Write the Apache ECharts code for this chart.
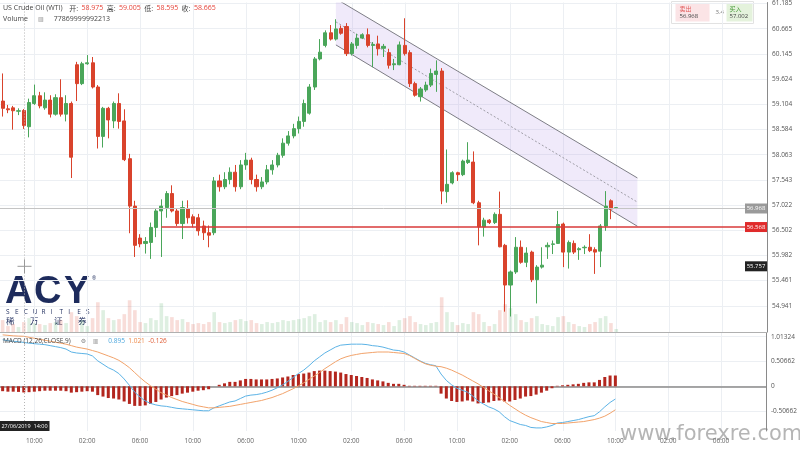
<!DOCTYPE html>
<html><head><meta charset="utf-8">
<script src="https://cdn.jsdelivr.net/npm/echarts@6/dist/echarts.min.js"></script>
<style>html,body{margin:0;padding:0;background:#fff;}#c{width:800px;height:450px;}</style>
</head><body><div id="c"></div>
<script>
// ---------- data ----------
// candles: [open, close, low, high]
const ohlc = [
[59.17,59.02,58.85,59.74],[59.01,58.99,58.92,59.09],[59.03,58.97,58.58,59.07],[58.96,58.97,58.88,59.02],[58.975,58.665,58.595,59.005],
[58.64,59.14,58.42,59.22],[59.12,59.28,59.09,59.51],[59.28,59.07,59.02,59.36],[59.03,59.19,58.99,59.35],[59.19,58.90,58.83,59.29],
[58.90,59.24,58.87,59.31],[59.24,58.90,58.85,59.62],[58.90,59.12,58.75,59.29],[59.12,58.01,57.58,59.16],[59.92,59.53,59.17,59.98],
[59.53,59.94,59.50,59.98],[59.94,59.96,59.92,60.12],[59.96,59.46,59.43,60.08],[59.46,58.44,58.19,59.50],[58.44,59.02,58.21,59.05],
[59.02,58.78,58.40,59.05],[58.76,59.12,58.61,59.16],[59.12,58.75,58.60,59.33],[58.76,57.96,57.93,59.00],[57.98,57.00,56.44,58.08],
[57.00,56.19,55.95,57.11],[56.34,56.22,56.15,56.42],[56.23,56.27,56.02,56.36],[56.25,56.56,55.91,56.66],[56.56,56.90,56.36,56.94],
[56.90,57.00,55.95,57.14],[56.97,57.26,56.76,57.31],[57.26,56.90,56.87,57.43],[56.90,56.64,56.59,56.94],[56.64,56.97,56.32,57.11],
[56.94,56.76,56.64,57.12],[56.78,56.64,56.56,56.83],[56.76,56.49,56.39,56.84],[56.59,56.45,56.30,56.70],[56.45,56.40,56.15,56.60],
[56.45,57.52,56.40,57.60],[57.52,57.40,57.30,57.65],[57.40,57.55,57.35,57.70],[57.55,57.70,57.45,57.80],[57.70,57.40,57.30,57.85],
[57.40,57.85,57.35,57.95],[57.85,57.95,57.75,58.10],[57.95,57.55,57.45,58.00],[57.55,57.40,57.30,57.65],[57.40,57.50,57.35,57.60],
[57.50,57.75,57.45,57.85],[57.75,57.85,57.65,57.95],[57.85,58.05,57.80,58.10],[58.05,58.30,58.00,58.40],[58.30,58.45,58.25,58.55],
[58.45,58.60,58.40,58.70],[58.60,58.75,58.50,58.85],[58.75,59.12,58.64,59.20],[58.92,59.46,58.89,59.52],[59.46,60.04,59.40,60.08],
[60.04,60.18,60.01,60.45],[60.32,60.58,60.28,60.63],[60.58,60.45,60.42,60.74],[60.45,60.66,60.42,60.86],[60.67,60.57,60.54,60.73],
[60.71,60.15,60.10,60.78],[60.15,60.35,60.11,60.39],[60.32,60.47,60.25,60.56],[60.47,60.54,60.45,60.57],[60.54,60.32,60.28,60.67],
[60.32,60.34,59.87,60.39],[60.35,60.25,60.11,60.52],[60.26,60.30,60.08,60.35],[60.17,59.91,59.84,60.25],[59.92,59.94,59.81,60.04],
[59.92,60.33,59.91,60.40],[60.32,60.15,60.11,60.88],[60.17,59.53,59.46,60.22],[59.53,59.29,59.26,59.57],[59.26,59.42,59.16,59.46],
[59.40,59.50,59.36,59.57],[59.50,59.74,59.46,59.84],[59.72,59.79,59.36,60.01],[59.79,57.31,57.04,59.85],[57.30,57.45,57.07,58.17],
[57.48,57.69,57.45,57.72],[57.69,57.65,57.52,57.71],[57.65,57.93,57.62,57.96],[57.90,57.95,57.87,58.32],[57.91,57.07,57.04,58.13],
[57.07,56.57,56.19,57.11],[56.57,56.71,56.37,56.76],[56.71,56.66,56.63,56.73],[56.66,56.83,56.63,56.87],[56.83,56.16,56.15,57.30],
[56.19,55.37,54.82,56.22],[55.37,55.64,54.72,55.67],[55.64,56.15,55.60,56.36],[56.15,55.84,55.81,56.29],[55.84,56.03,55.74,56.15],
[56.05,55.48,55.43,56.08],[55.48,55.74,54.99,55.78],[55.74,55.78,55.71,56.15],[56.16,56.19,55.91,56.25],[56.21,56.22,56.01,56.29],
[56.23,56.62,56.22,56.90],[56.63,56.05,55.74,56.66],[56.05,56.25,55.71,56.29],[56.23,56.05,56.01,56.29],[56.10,56.12,55.89,56.15],
[56.14,56.15,56.01,56.19],[56.15,56.08,56.05,56.42],[56.10,56.05,55.60,56.15],[56.07,56.59,55.74,56.63],[56.59,57.00,56.49,57.31],
[57.11,56.94,56.73,57.14],[56.96,56.968,56.94,56.98]
];
const volume = [
12,6,8,5,10,14,9,8,7,9,10,12,9,20,16,12,6,14,30,22,
14,12,13,18,32,22,10,9,14,12,29,16,15,12,13,10,8,9,8,10,
20,10,9,10,12,13,11,12,9,8,10,9,10,12,11,12,13,14,16,18,
10,12,10,12,8,15,10,9,7,10,9,8,7,10,6,12,14,16,10,8,
7,9,10,35,20,10,7,9,8,20,18,10,6,8,22,28,24,18,12,10,
14,16,8,7,6,15,16,10,8,6,5,8,10,14,16,9,3
];
const dif = [
0.95,0.93,0.92,0.91,0.895,0.88,0.87,0.86,0.85,0.83,0.81,0.79,0.76,0.70,0.68,0.67,0.66,0.62,0.52,0.45,
0.38,0.33,0.26,0.15,0.02,-0.12,-0.22,-0.30,-0.35,-0.38,-0.40,-0.41,-0.43,-0.45,-0.46,-0.47,-0.48,-0.49,-0.50,-0.50,
-0.44,-0.40,-0.36,-0.32,-0.30,-0.25,-0.20,-0.18,-0.17,-0.15,-0.12,-0.08,-0.03,0.03,0.10,0.18,0.26,0.33,0.42,0.52,
0.60,0.68,0.74,0.80,0.84,0.85,0.86,0.86,0.86,0.85,0.83,0.82,0.80,0.77,0.74,0.73,0.70,0.64,0.58,0.52,
0.47,0.44,0.42,0.25,0.12,0.03,-0.04,-0.08,-0.12,-0.20,-0.30,-0.36,-0.42,-0.46,-0.52,-0.62,-0.70,-0.74,-0.78,-0.80,
-0.84,-0.85,-0.85,-0.83,-0.80,-0.75,-0.74,-0.72,-0.70,-0.68,-0.65,-0.62,-0.60,-0.52,-0.42,-0.33,-0.26
];
const dea = [
1.05,1.04,1.03,1.025,1.021,1.00,0.98,0.96,0.94,0.92,0.90,0.88,0.86,0.83,0.80,0.78,0.76,0.73,0.70,0.66,
0.62,0.58,0.53,0.46,0.38,0.28,0.18,0.09,0.01,-0.06,-0.13,-0.18,-0.23,-0.27,-0.31,-0.34,-0.37,-0.40,-0.42,-0.44,
-0.44,-0.43,-0.42,-0.41,-0.39,-0.37,-0.35,-0.33,-0.31,-0.29,-0.26,-0.23,-0.19,-0.15,-0.10,-0.05,0.01,0.07,0.14,0.21,
0.28,0.36,0.43,0.50,0.56,0.60,0.63,0.65,0.67,0.68,0.69,0.70,0.70,0.70,0.69,0.68,0.67,0.63,0.57,0.51,
0.46,0.43,0.41,0.40,0.37,0.33,0.28,0.23,0.17,0.11,0.05,-0.02,-0.09,-0.16,-0.23,-0.31,-0.39,-0.46,-0.53,-0.59,
-0.64,-0.68,-0.72,-0.74,-0.76,-0.76,-0.76,-0.75,-0.74,-0.73,-0.72,-0.70,-0.68,-0.65,-0.61,-0.55,-0.48
];
const hist = [
-0.10,-0.11,-0.11,-0.115,-0.126,-0.12,-0.11,-0.10,-0.09,-0.09,-0.09,-0.09,-0.10,-0.13,-0.12,-0.11,-0.10,-0.11,-0.18,-0.21,
-0.24,-0.25,-0.27,-0.31,-0.36,-0.40,-0.40,-0.39,-0.36,-0.32,-0.27,-0.23,-0.20,-0.18,-0.15,-0.13,-0.11,-0.09,-0.08,-0.06,
0.00,0.03,0.06,0.09,0.09,0.12,0.15,0.15,0.14,0.14,0.14,0.15,0.16,0.18,0.20,0.23,0.25,0.26,0.28,0.31,
0.32,0.32,0.31,0.30,0.28,0.25,0.23,0.21,0.19,0.17,0.14,0.12,0.10,0.07,0.05,0.05,0.03,0.01,0.01,0.01,
0.01,0.01,0.01,-0.15,-0.25,-0.30,-0.32,-0.31,-0.29,-0.31,-0.35,-0.34,-0.33,-0.30,-0.29,-0.31,-0.31,-0.28,-0.25,-0.21,
-0.20,-0.17,-0.13,-0.09,-0.04,0.01,0.02,0.03,0.04,0.05,0.07,0.08,0.08,0.13,0.19,0.22,0.22
];
const priceTicks = [54.941,55.461,55.982,56.502,57.022,57.543,58.063,58.584,59.104,59.624,60.145,60.665,61.185];
const macdTicks = [-0.50662,0,0.50662,1.01324];
const xTickLabels = ['10:00','02:00','06:00','10:00','06:00','10:00','02:00','06:00','10:00','02:00','06:00','10:00','02:00','06:00'];
const xTickStart = 6, xTickEvery = 10, slotCount = 145;
// channel: [index, price] end points
const channelX = [63, 120];
const channelUpper = [61.283, 57.582];
const channelMiddle = [60.806, 57.083];
const channelLower = [60.330, 56.584];
const supportPrice = 56.568, supportFrom = 30;
const lastPrice = 56.968;
const crossIndex = 4, crossPrice = 55.757, crossDate = '27/06/2019  14:00';
const volumeTotal = '77869999992213';
const bidAsk = {bid: '56.968', ask: '57.002', spread: '3.4'};
const logoWord = ['A', 'C', 'Y'];
const logoSub = 'SECURITIES';
const logoCn = ['稀', '万', '证', '券'];

// ---------- chart ----------
const FONT = '"Open Sans", Roboto, sans-serif';
const CJK = '"Noto Sans CJK SC", sans-serif';
const UP = '#4aa65a', DOWN = '#d9432c', NAVY = '#1d2b5c';
const cats = Array.from({length: slotCount}, (_, i) => String(i));
const tickIdx = xTickLabels.map((_, k) => xTickStart + k * xTickEvery);
const chart = echarts.init(document.getElementById('c'));

function vGrid(params, api) {
  const cs = params.coordSys;
  return {type: 'group', children: tickIdx.map(i => {
    const x = Math.round(api.coord([i, 0])[0]) + 0.5;
    return {type: 'line', shape: {x1: x, y1: cs.y, x2: x, y2: cs.y + cs.height}, style: {stroke: '#eceff3', lineWidth: 1}};
  })};
}
function channelRender(params, api) {
  const u0 = api.coord([channelX[0], channelUpper[0]]), u1 = api.coord([channelX[1], channelUpper[1]]);
  const m0 = api.coord([channelX[0], channelMiddle[0]]), m1 = api.coord([channelX[1], channelMiddle[1]]);
  const l0 = api.coord([channelX[0], channelLower[0]]), l1 = api.coord([channelX[1], channelLower[1]]);
  return {type: 'group', children: [
    {type: 'polygon', shape: {points: [u0, u1, l1, l0]}, style: {fill: 'rgba(186,160,232,0.22)'}},
    {type: 'line', shape: {x1: u0[0], y1: u0[1], x2: u1[0], y2: u1[1]}, style: {stroke: '#7d7d85', lineWidth: 1}},
    {type: 'line', shape: {x1: l0[0], y1: l0[1], x2: l1[0], y2: l1[1]}, style: {stroke: '#7d7d85', lineWidth: 1}},
    {type: 'line', shape: {x1: m0[0], y1: m0[1], x2: m1[0], y2: m1[1]}, style: {stroke: '#8a8a92', lineWidth: 0.8, lineDash: [2, 2]}}
  ]};
}
function priceBox(cs, y, bg, txt) {
  const r = cs.x + cs.width;
  return [
    {type: 'rect', shape: {x: r - 22, y: y - 5, width: 22, height: 10}, style: {fill: bg}},
    {type: 'text', x: r - 11, y: y, style: {text: txt, fill: '#fff', font: '6px ' + FONT, align: 'center', verticalAlign: 'middle'}}
  ];
}
function levelsRender(params, api) {
  const cs = params.coordSys;
  const r = cs.x + cs.width;
  const yl = Math.round(api.coord([0, lastPrice])[1]) + 0.5;
  const s0 = api.coord([supportFrom, supportPrice]);
  const cx = Math.round(api.coord([crossIndex, crossPrice])[0]) + 0.5;
  const cy = api.coord([crossIndex, crossPrice])[1];
  return {type: 'group', children: [
    {type: 'line', shape: {x1: cs.x, y1: yl, x2: r, y2: yl}, style: {stroke: '#c4c4c4', lineWidth: 1}},
    {type: 'line', shape: {x1: s0[0], y1: s0[1], x2: r, y2: s0[1]}, style: {stroke: '#d93a3a', lineWidth: 1.5}},
    {type: 'line', shape: {x1: cx, y1: cs.y, x2: cx, y2: cs.y + cs.height}, style: {stroke: '#b5b5b5', lineWidth: 1, lineDash: [1, 2]}},
    {type: 'line', shape: {x1: cx - 7, y1: cy, x2: cx + 7, y2: cy}, style: {stroke: '#999', lineWidth: 1}},
    {type: 'line', shape: {x1: cx, y1: cy - 7, x2: cx, y2: cy + 7}, style: {stroke: '#999', lineWidth: 1}},
    ...priceBox(cs, yl, '#9a9a9a', lastPrice.toFixed(3)),
    ...priceBox(cs, s0[1], '#e02b2b', supportPrice.toFixed(3)),
    ...priceBox(cs, cy, '#222', crossPrice.toFixed(3))
  ]};
}
function macdCross(params, api) {
  const cs = params.coordSys;
  const cx = Math.round(api.coord([crossIndex, 0])[0]) + 0.5;
  const b = cs.y + cs.height;
  return {type: 'group', children: [
    {type: 'line', shape: {x1: cx, y1: cs.y, x2: cx, y2: b}, style: {stroke: '#b5b5b5', lineWidth: 1, lineDash: [1, 2]}},
    {type: 'rect', shape: {x: cx - 25, y: b - 10, width: 50, height: 10}, style: {fill: '#222'}},
    {type: 'text', x: cx, y: b - 5, style: {text: crossDate, fill: '#fff', font: '5.5px ' + FONT, align: 'center', verticalAlign: 'middle'}}
  ]};
}

const logoChildren = [];
logoWord.forEach((ch, k) => logoChildren.push({type: 'text', x: k * 29 + (k === 2 ? 1 : 0), y: 0,
  style: {text: ch, fill: NAVY, font: 'bold 38px "Liberation Sans", Arial, sans-serif'}}));
logoChildren.push({type: 'text', x: 87, y: 2, style: {text: '®', fill: NAVY, font: '5px ' + FONT}});
logoSub.split('').forEach((ch, k) => logoChildren.push({type: 'text', x: 1 + k * 8.9, y: 35,
  style: {text: ch, fill: NAVY, font: '6.5px ' + FONT, align: 'left'}}));
logoCn.forEach((ch, k) => logoChildren.push({type: 'text', x: 1 + k * 24, y: 43,
  style: {text: ch, fill: NAVY, font: '8.5px ' + CJK}}));

const c4 = ohlc[crossIndex];
const option = {
  animation: false,
  backgroundColor: '#fff',
  grid: [
    {left: 0, right: 33, top: 0, height: 332},
    {left: 0, right: 33, top: 333, height: 98}
  ],
  xAxis: [
    {type: 'category', gridIndex: 0, data: cats, boundaryGap: true,
     axisLine: {show: true, lineStyle: {color: '#b0b0b0'}}, axisTick: {show: false}, axisLabel: {show: false}, splitLine: {show: false}},
    {type: 'category', gridIndex: 1, data: cats, boundaryGap: true,
     axisLine: {show: true, lineStyle: {color: '#8a8a8a', width: 1.5}}, axisTick: {show: false},
     axisLabel: {interval: (i) => i >= xTickStart && (i - xTickStart) % xTickEvery === 0,
       formatter: (v, i) => xTickLabels[(i - xTickStart) / xTickEvery] || '',
       fontSize: 6.5, color: '#666', margin: 7, fontFamily: FONT},
     splitLine: {show: false}}
  ],
  yAxis: [
    {type: 'value', gridIndex: 0, position: 'right', min: 54.40, max: 61.205,
     axisLine: {show: true, lineStyle: {color: '#8a8a8a'}},
     axisTick: {show: false, customValues: priceTicks},
     axisLabel: {customValues: priceTicks, formatter: v => v.toFixed(3), fontSize: 6.5, color: '#555', margin: 5, fontFamily: FONT},
     splitLine: {show: true, lineStyle: {color: '#eceff3'}}},
    {type: 'value', gridIndex: 0, min: 0, max: 332, show: false, splitLine: {show: false}},
    {type: 'value', gridIndex: 1, position: 'right', min: -0.913, max: 1.088,
     axisLine: {show: true, lineStyle: {color: '#8a8a8a'}},
     axisTick: {show: false, customValues: macdTicks},
     axisLabel: {customValues: macdTicks, formatter: v => String(v), fontSize: 6.5, color: '#555', margin: 5, fontFamily: FONT},
     splitLine: {show: true, lineStyle: {color: '#eceff3'}}}
  ],
  series: [
    {type: 'custom', xAxisIndex: 0, yAxisIndex: 0, data: [0], renderItem: vGrid, silent: true, z: 0},
    {type: 'custom', xAxisIndex: 1, yAxisIndex: 2, data: [0], renderItem: vGrid, silent: true, z: 0},
    {type: 'bar', xAxisIndex: 0, yAxisIndex: 1, barWidth: 3.6, z: 1,
     data: volume.map((v, i) => ({value: v, itemStyle: {color: ohlc[i][1] >= ohlc[i][0] ? 'rgba(74,166,90,0.18)' : 'rgba(217,67,44,0.18)'}}))},
    {type: 'custom', xAxisIndex: 0, yAxisIndex: 0, data: [0], renderItem: channelRender, clip: true, silent: true, z: 2},
    {type: 'candlestick', xAxisIndex: 0, yAxisIndex: 0, data: ohlc, barWidth: 3.6, z: 3,
     itemStyle: {color: UP, color0: DOWN, borderColor: UP, borderColor0: DOWN, borderWidth: 1}},
    {type: 'custom', xAxisIndex: 0, yAxisIndex: 0, data: [0], renderItem: levelsRender, clip: false, silent: true, z: 5},
    {type: 'bar', xAxisIndex: 1, yAxisIndex: 2, data: hist, barWidth: 3, itemStyle: {color: '#b3261e'}, z: 2},
    {type: 'line', xAxisIndex: 1, yAxisIndex: 2, data: dif, showSymbol: false, lineStyle: {color: '#5cb3e6', width: 1}, z: 3},
    {type: 'line', xAxisIndex: 1, yAxisIndex: 2, data: dea, showSymbol: false, lineStyle: {color: '#f2a36b', width: 1}, z: 3},
    {type: 'custom', xAxisIndex: 1, yAxisIndex: 2, data: [0], renderItem: macdCross, clip: false, silent: true, z: 5}
  ],
  graphic: [
    {type: 'text', left: 3, top: 2, z: 10, style: {
      text: '{t|US Crude Oil (WTI)}  {k|开:} {v|' + c4[0].toFixed(3) + '} {k|高:} {v|' + c4[3].toFixed(3) + '} {k|低:} {v|' + c4[2].toFixed(3) + '} {k|收:} {v|' + c4[1].toFixed(3) + '}',
      rich: {t: {fontSize: 7, fill: '#444', fontFamily: FONT}, k: {fontSize: 7, fill: '#444', fontFamily: CJK}, v: {fontSize: 7, fill: '#e5443a', fontFamily: FONT}}}},
    {type: 'text', left: 3, top: 13, z: 10, style: {
      text: '{t|Volume}   {k|▥}   {t|' + volumeTotal + '}',
      rich: {t: {fontSize: 7, fill: '#444', fontFamily: FONT}, k: {fontSize: 6, fill: '#888', fontFamily: FONT}}}},
    {type: 'text', left: 3, top: 335, z: 10, style: {
      text: '{t|MACD (12,26,CLOSE,9)}   {k|⚙}  {k|▥}   {b|' + dif[crossIndex].toFixed(3) + '} {o|' + dea[crossIndex].toFixed(3) + '} {r|' + hist[crossIndex].toFixed(3) + '}',
      rich: {t: {fontSize: 6.5, fill: '#444', fontFamily: FONT}, k: {fontSize: 6, fill: '#888', fontFamily: 'DejaVu Sans'},
        b: {fontSize: 6.5, fill: '#4ea8de', fontFamily: FONT}, o: {fontSize: 6.5, fill: '#ee8a4a', fontFamily: FONT}, r: {fontSize: 6.5, fill: '#e0603a', fontFamily: FONT}}}},
    // quote box
    {type: 'group', left: 671, top: 1, z: 10, children: [
      {type: 'rect', shape: {x: 0, y: 0, width: 82, height: 22}, style: {fill: '#fff', stroke: '#e2e2e2', lineWidth: 1}},
      {type: 'rect', shape: {x: 4, y: 2, width: 34, height: 18}, style: {fill: '#fbe4e6'}},
      {type: 'rect', shape: {x: 55, y: 2, width: 26, height: 18}, style: {fill: '#e4f2dc'}},
      {type: 'text', x: 8, y: 4, style: {text: '卖出', fill: '#e05a5a', font: '6px ' + CJK}},
      {type: 'text', x: 8, y: 12, style: {text: bidAsk.bid, fill: '#444', font: '6px ' + FONT}},
      {type: 'text', x: 44, y: 8, style: {text: bidAsk.spread, fill: '#777', font: '6px ' + FONT}},
      {type: 'text', x: 58, y: 4, style: {text: '买入', fill: '#4a9a3a', font: '6px ' + CJK}},
      {type: 'text', x: 58, y: 12, style: {text: bidAsk.ask, fill: '#444', font: '6px ' + FONT}}
    ]},
    // logo
    {type: 'group', left: 5, top: 274, z: 10, children: logoChildren},
    // watermark
    {type: 'text', left: 620, top: 424, z: 10, style: {text: 'www.forexre.com', fill: 'rgba(120,120,120,0.55)', font: '21px "DejaVu Sans", sans-serif'}}
  ]
};
chart.setOption(option);
</script>
</body></html>
